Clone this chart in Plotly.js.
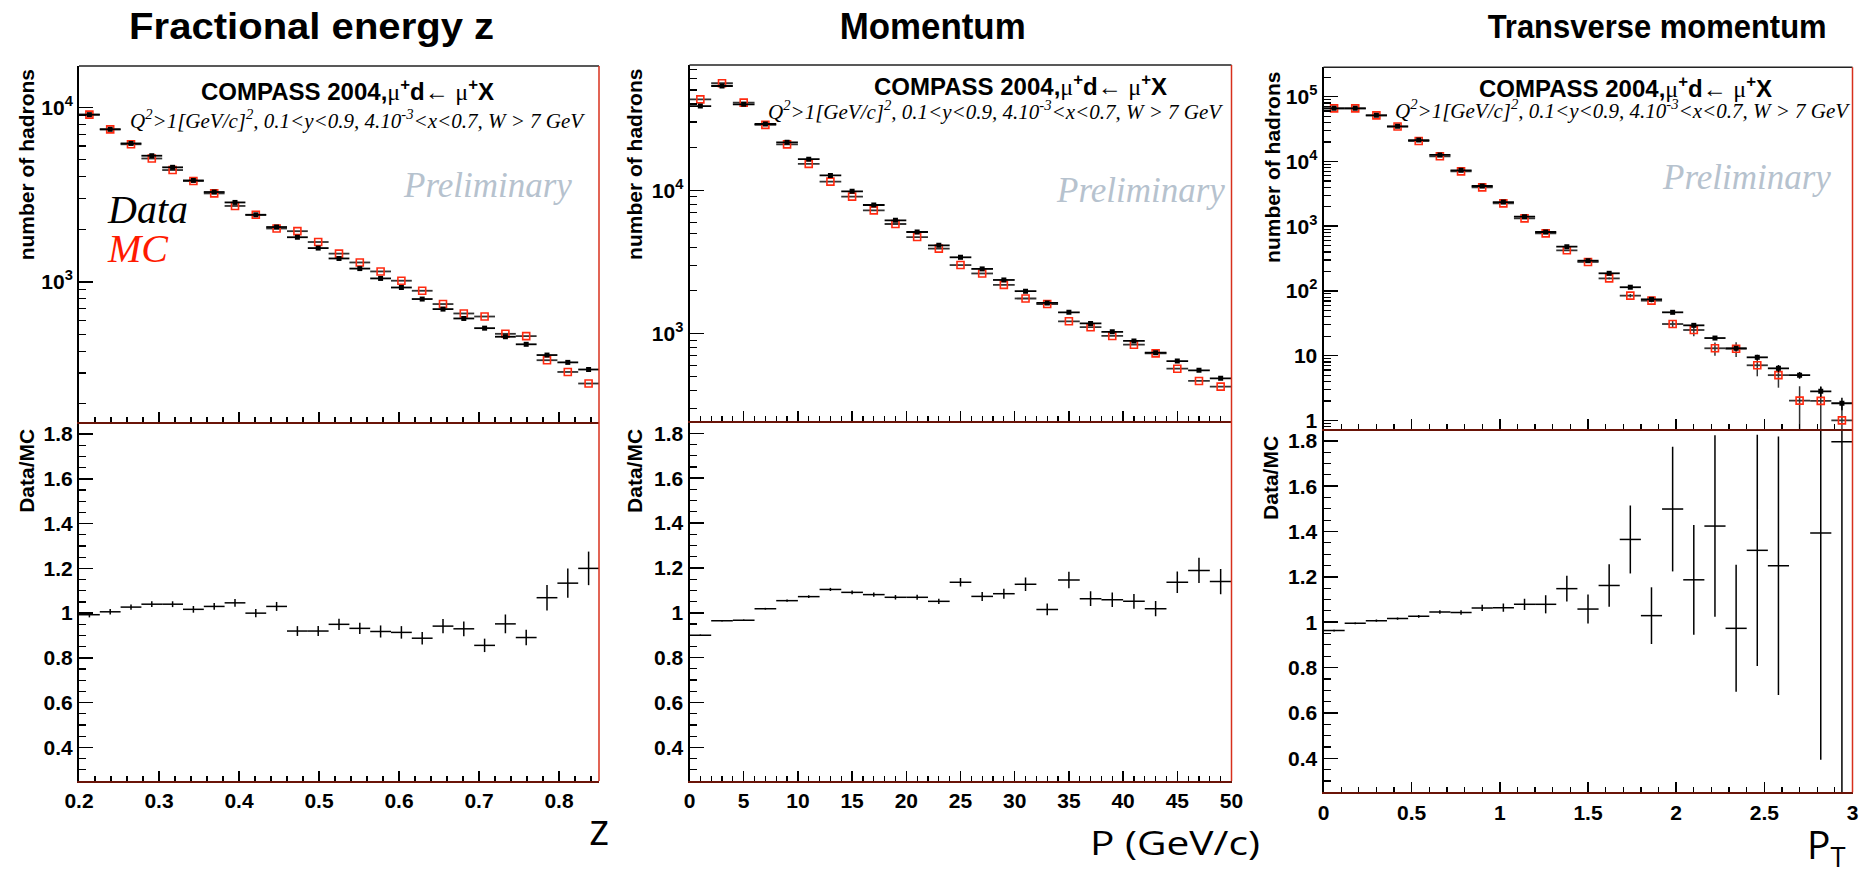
<!DOCTYPE html>
<html><head><meta charset="utf-8">
<script src="https://cdn.plot.ly/plotly-3.0.1.min.js"></script>
<style>html,body{margin:0;padding:0;background:#fff}#chart{width:1863px;height:869px}</style>
</head><body><div id="chart"></div>
<script>
// ---------------- DATA ----------------
const zBins = [0.213,0.239,0.265,0.291,0.317,0.343,0.369,0.395,0.421,0.447,0.473,0.499,0.525,0.551,0.577,0.603,0.629,0.655,0.681,0.707,0.733,0.759,0.785,0.811,0.837];
const zData = [9080,7480,6210,5280,4530,3810,3270,2850,2420,2060,1800,1560,1360,1190,1045,927,796,697,616,542,484,438,380,345,314];
const zMC   = [9080,7480,6140,5090,4370,3780,3210,2720,2420,2020,1950,1690,1450,1290,1146,1014,888,745,658,632,503,488,355,304,261];
const zRatio    = [0.993,1.006,1.027,1.040,1.040,1.017,1.030,1.046,1.000,1.030,0.920,0.920,0.950,0.932,0.918,0.914,0.888,0.942,0.930,0.856,0.952,0.891,1.069,1.134,1.200];
const zRatioErr = [0.012,0.012,0.012,0.013,0.013,0.015,0.015,0.017,0.018,0.020,0.022,0.022,0.025,0.025,0.027,0.028,0.028,0.032,0.033,0.030,0.042,0.035,0.057,0.065,0.075];

const pBins = [1,3,5,7,9,11,13,15,17,19,21,23,25,27,29,31,33,35,37,39,41,43,45,47,49];
const pData = [38700,53400,39800,29000,21600,16500,12700,9840,7900,6180,5120,4130,3410,2830,2370,1980,1640,1410,1180,1030,890,737,644,555,488];
const pMC   = [43100,55800,40900,28600,20900,15300,11500,9030,7240,5820,4720,3920,3010,2630,2190,1760,1610,1220,1110,964,838,729,570,468,427];
const pRatio    = [0.900,0.964,0.967,1.018,1.054,1.072,1.104,1.091,1.081,1.069,1.069,1.051,1.136,1.073,1.085,1.127,1.015,1.146,1.063,1.058,1.051,1.018,1.136,1.189,1.139];
const pRatioErr = [0.003,0.003,0.003,0.004,0.005,0.006,0.007,0.008,0.009,0.010,0.011,0.012,0.019,0.020,0.022,0.030,0.026,0.037,0.033,0.032,0.033,0.034,0.048,0.056,0.056];

const ptBins = [0.06,0.18,0.30,0.42,0.54,0.66,0.78,0.90,1.02,1.14,1.26,1.38,1.50,1.62,1.74,1.86,1.98,2.10,2.22,2.34,2.46,2.58,2.70,2.82,2.94];
const ptData    = [66100,66100,51500,34800,21400,12600,7280,4170,2360,1400,813,482,293,187,114,74.1,46.7,29.4,18.7,13.0,9.42,6.37,5.0,2.81,1.84];
const ptDataErr = [0,0,0,0,0,0,0,0,0,0,0,0,0,0,0,0,2.0,1.5,1.2,1.0,0.9,0.8,0.6,0.5,0.4];
const ptMC      = [66100,66100,51500,34600,20700,12000,7030,3980,2250,1320,775,424,280,156,84.5,70.7,30.8,24.9,13.0,12.8,7.1,5.0,2.02,2.0,1.0];
const ptMCErr   = [0,0,0,0,0,0,0,0,0,0,0,0,0,5,5,4,3.5,5,3,3.3,2.3,1.8,1.35,1.35,0.99];
const ptRatio    = [0.963,0.995,1.007,1.016,1.026,1.045,1.043,1.063,1.064,1.079,1.079,1.148,1.058,1.162,1.365,1.029,1.499,1.187,1.424,0.973,1.317,1.249,2.48,1.393,1.796];
const ptRatioErr = [0.004,0.004,0.005,0.005,0.006,0.008,0.010,0.014,0.018,0.025,0.040,0.057,0.064,0.094,0.150,0.125,0.275,0.242,0.400,0.280,0.510,0.570,0,1.000,1.800];

const binHalfWidth = [0.013, 1, 0.06];

const panelTitles = ['Fractional energy z', 'Momentum', 'Transverse momentum'];
const xLabels = ['z', 'P (GeV/c)', 'P<sub>T</sub>'];
const yTitleTop = 'number of hadrons';
const yTitleBottom = 'Data/MC';
const expTitle = 'COMPASS 2004,<span style="font-family:\'Liberation Serif\';font-weight:normal">μ</span><sup>+</sup>d← <span style="font-family:\'Liberation Serif\';font-weight:normal">μ</span><sup>+</sup>X';
const cutsText = 'Q<sup>2</sup>&gt;1[GeV/c]<sup>2</sup>, 0.1&lt;y&lt;0.9, 4.10<sup>-3</sup>&lt;x&lt;0.7, W &gt; 7 GeV';

// ---------------- LAYOUT ----------------
const W = 1863, H = 869;
const fx = p => p / W;
const fy = p => 1 - p / H;
const sfx = n => (n === 1 ? '' : String(n));

const panels = [
  {x0:79,    x1:599,    top:66,   mid:422, bot:781,
   xr:[0.2,0.85], xd:0.1, xt0:0.2, xm:0.02,
   yr:[0.25,1.854], lr:[2.196,4.237], lv:[1e3,1e4], lt:['10<sup>3</sup>','10<sup>4</sup>'],
   bins:zBins, data:zData, mc:zMC, ratio:zRatio, rerr:zRatioErr, derr:null, merr:null},
  {x0:689.5, x1:1231.5, top:65,   mid:421, bot:781,
   xr:[0,50], xd:5, xt0:0, xm:1,
   yr:[0.25,1.855], lr:[2.391,4.874], lv:[1e3,1e4], lt:['10<sup>3</sup>','10<sup>4</sup>'],
   bins:pBins, data:pData, mc:pMC, ratio:pRatio, rerr:pRatioErr, derr:null, merr:null},
  {x0:1323.5,x1:1852.5, top:67.3, mid:429, bot:792.3,
   xr:[0,3], xd:0.5, xt0:0, xm:0.1,
   yr:[0.25,1.852], lr:[-0.133,5.454], lv:[1,10,100,1e3,1e4,1e5], lt:['1','10','10<sup>2</sup>','10<sup>3</sup>','10<sup>4</sup>','10<sup>5</sup>'],
   bins:ptBins, data:ptData, mc:ptMC, ratio:ptRatio, rerr:ptRatioErr, derr:ptDataErr, merr:ptMCErr}
];

const logMinor = [];
for (let d = -1; d <= 6; d++) for (let m = 2; m <= 9; m++) logMinor.push(m * Math.pow(10, d));

const tickFont = {family:'Liberation Sans, Arial, sans-serif', size:21, weight:'bold', color:'#000'};
const frameDark = '#6a1408';
const frameRed = '#d8301c';

const layout = {
  width: W, height: H, autosize: false,
  margin: {l:0, r:0, t:0, b:0},
  paper_bgcolor: '#fff', plot_bgcolor: '#fff',
  showlegend: false, hovermode: false,
  annotations: [], shapes: []
};
const traces = [];

panels.forEach((P, i) => {
  const nl = 2*i+1, nu = 2*i+2;
  const xdom = [fx(P.x0), fx(P.x1)];
  const lowDom = [fy(P.bot), fy(P.mid)];
  const upDom = [fy(P.mid), fy(P.top)];
  const xBase = {
    domain: xdom, range: P.xr, tickmode:'linear', dtick:P.xd, tick0:P.xt0,
    ticks:'inside', ticklen:10, tickwidth:1.5, tickcolor:'#000',
    minor:{dtick:P.xm, ticks:'inside', ticklen:5, tickwidth:1.2, tickcolor:'#000', showgrid:false},
    showline:true, linecolor:frameDark, linewidth:2,
    showgrid:false, zeroline:false, tickfont:tickFont, fixedrange:true
  };
  layout['xaxis' + sfx(nl)] = Object.assign({}, xBase, {anchor:'y' + sfx(nl), showticklabels:true});
  layout['xaxis' + sfx(nu)] = Object.assign({}, xBase, {anchor:'y' + sfx(nu), showticklabels:false});
  layout['yaxis' + sfx(nl)] = {
    domain: lowDom, range: P.yr, tickmode:'linear', dtick:0.2, tick0:0.4,
    ticks:'inside', ticklen:14, tickwidth:1.5, tickcolor:'#000',
    minor:{dtick:0.05, ticks:'inside', ticklen:7, tickwidth:1.2, tickcolor:'#000', showgrid:false},
    showline:true, linecolor:'#000', linewidth:2, anchor:'x' + sfx(nl),
    showgrid:false, zeroline:false, tickfont:tickFont, fixedrange:true
  };
  layout['yaxis' + sfx(nu)] = {
    domain: upDom, type:'log', range: P.lr, tickmode:'array', tickvals:P.lv, ticktext:P.lt,
    ticks:'inside', ticklen:14, tickwidth:1.5, tickcolor:'#000',
    minor:{tickmode:'array', tickvals:logMinor, ticks:'inside', ticklen:7, tickwidth:1.2, tickcolor:'#000', showgrid:false},
    showline:true, linecolor:'#000', linewidth:2, anchor:'x' + sfx(nu),
    showgrid:false, zeroline:false, tickfont:tickFont, fixedrange:true
  };
  layout.shapes.push({type:'line', xref:'paper', yref:'paper', x0:fx(P.x0), x1:fx(P.x1), y0:fy(P.top), y1:fy(P.top), line:{color:'#222', width:1.5}});
  layout.shapes.push({type:'line', xref:'paper', yref:'paper', x0:fx(P.x1), x1:fx(P.x1), y0:fy(P.top), y1:fy(P.bot), line:{color:frameRed, width:1.5}});

  const hw = binHalfWidth[i];
  traces.push({
    type:'scatter', mode:'markers', x:P.bins, y:P.mc, xaxis:'x' + sfx(nu), yaxis:'y' + sfx(nu),
    marker:{symbol:'square-open', size:7, color:'#ff2a10', line:{width:1.6, color:'#ff2a10'}},
    error_x:{type:'constant', value:hw, color:'#333', thickness:1.8, width:0},
    error_y: P.merr ? {type:'data', array:P.merr, color:'#333', thickness:1.5, width:0} : {visible:false},
    cliponaxis:true
  });
  traces.push({
    type:'scatter', mode:'markers', x:P.bins, y:P.data, xaxis:'x' + sfx(nu), yaxis:'y' + sfx(nu),
    marker:{symbol:'square', size:5, color:'#000'},
    error_x:{type:'constant', value:hw, color:'#000', thickness:1.8, width:0},
    error_y: P.derr ? {type:'data', array:P.derr, color:'#000', thickness:1.5, width:0} : {visible:false},
    cliponaxis:true
  });
  traces.push({
    type:'scatter', mode:'markers', x:P.bins, y:P.ratio, xaxis:'x' + sfx(nl), yaxis:'y' + sfx(nl),
    marker:{size:1, color:'#000', opacity:0},
    error_x:{type:'constant', value:hw, color:'#000', thickness:1.5, width:0},
    error_y:{type:'data', array:P.rerr, color:'#000', thickness:1.5, width:0},
    cliponaxis:true
  });
});

function ann(text, cx, cy, font, extra) {
  return Object.assign({xref:'paper', yref:'paper', x:fx(cx), y:fy(cy), text:text, showarrow:false,
    xanchor:'center', yanchor:'middle', font:font}, extra || {});
}
const titleFont = {family:'Liberation Sans, Arial, sans-serif', size:37, weight:'bold', color:'#000'};
const labelFont = {family:'Open Sans, Noto Sans, sans-serif', size:32, color:'#000'};

// 0-2: panel titles (stretched to the measured widths afterwards)
const titlePos = [[311, 26, 365, 37], [932, 26, 186, 37], [1657, 26, 339, 34]];
titlePos.forEach((t, i) => layout.annotations.push(ann(panelTitles[i], t[0], t[1], Object.assign({}, titleFont, {size:t[3]}))));
// 3-5: x labels
layout.annotations.push(ann(xLabels[0], 599, 828, Object.assign({}, labelFont, {size:43})));
layout.annotations.push(ann(xLabels[1], 1175, 842.6, labelFont));
layout.annotations.push(ann(xLabels[2], 1826, 846, Object.assign({}, labelFont, {size:39})));
const stretch = [[0, 365], [1, 186], [2, 339], [4, 170]];

const yTitleFont = {family:'Liberation Sans, Arial, sans-serif', size:21, weight:'bold', color:'#000'};
[[26.3,165,26.3,470.5],[634.4,164.5,634.4,470.5],[1272.4,167.5,1270.4,477.5]].forEach(p => {
  layout.annotations.push(ann(yTitleTop, p[0], p[1], yTitleFont, {textangle:-90}));
  layout.annotations.push(ann(yTitleBottom, p[2], p[3], yTitleFont, {textangle:-90}));
});
const expFont = {family:'Liberation Sans, Arial, sans-serif', size:24, weight:'bold', color:'#000'};
const cutsFont = {family:'Liberation Serif, Times New Roman, serif', size:21, style:'italic', color:'#000'};
const prelimFont = {family:'Liberation Serif, Times New Roman, serif', size:35, style:'italic', color:'#b6c2ce'};
[[347.6,90, 357.4,119.5, 487,185],[1020,84.6, 995.5,111, 1140,190],[1625,86.6, 1622.6,109.5, 1746,178]].forEach(p => {
  layout.annotations.push(ann(expTitle, p[0], p[1], expFont));
  layout.annotations.push(ann(cutsText, p[2], p[3], cutsFont));
  layout.annotations.push(ann('Preliminary', p[4], p[5], prelimFont));
});
layout.annotations.push(ann('Data', 105, 209.4, {family:'Liberation Serif, serif', size:40, style:'italic', color:'#000'}, {xanchor:'left'}));
layout.annotations.push(ann('MC', 105, 248, {family:'Liberation Serif, serif', size:40, style:'italic', color:'#ff1a00'}, {xanchor:'left'}));

Plotly.newPlot('chart', traces, layout, {staticPlot:true, displayModeBar:false}).then(gd => {
  stretch.forEach(([idx, w]) => {
    const t = gd.querySelector('g.annotation[data-index="' + idx + '"] text.annotation-text');
    if (t) { t.setAttribute('textLength', w); t.setAttribute('lengthAdjust', 'spacingAndGlyphs'); }
  });
});
</script>
</body></html>
